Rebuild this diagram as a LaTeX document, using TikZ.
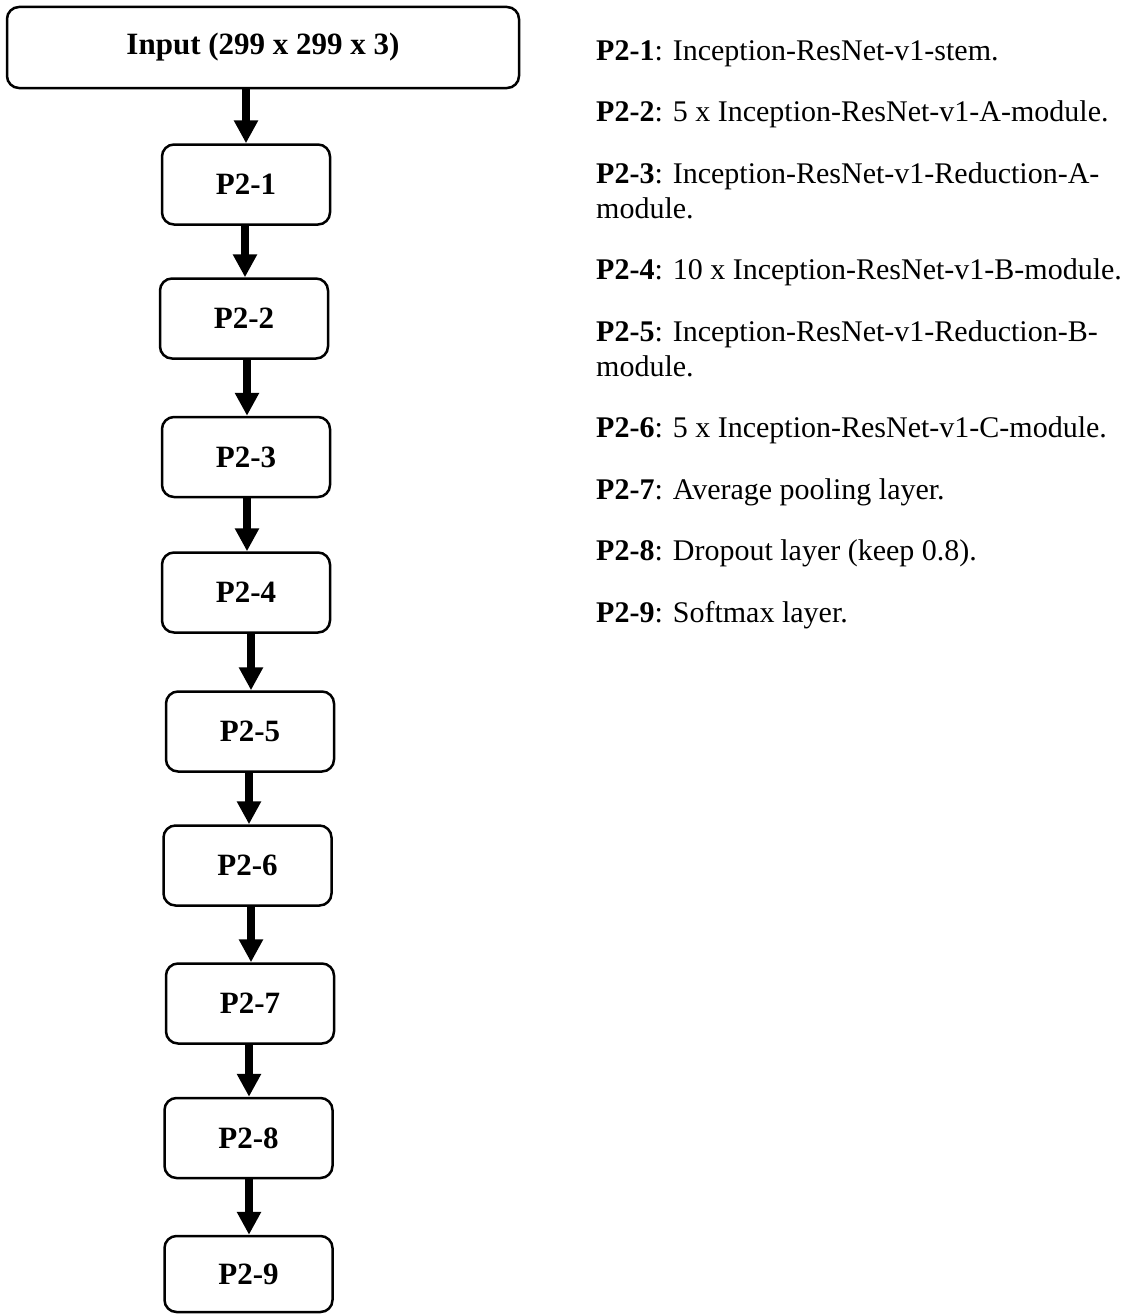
\documentclass[tikz,border=0pt]{standalone}
\usepackage{fontspec}
\setmainfont{Liberation Serif}
\usepackage{tikz}
\usetikzlibrary{arrows.meta, positioning}

\begin{document}
\begin{tikzpicture}[x=1pt, y=-1pt,
    box/.style={rectangle, rounded corners=12pt, draw, line width=2.5pt, minimum width=168pt, minimum height=80pt, align=center, font=\fontsize{31}{36}\selectfont\bfseries},
    arrow/.style={-{Triangle[width=23pt, length=23pt]}, line width=8pt},
    desc/.style={anchor=base west, inner sep=0pt, align=left, font=\fontsize{30}{35}\selectfont}
]
\useasboundingbox (0,0) rectangle (1127,1314);

% layer column
\node[box, minimum width=512pt, minimum height=81pt] (in) at (263,47.5) {Input (299 x 299 x 3)};
\node[box] (p1) at (246,184.5) {P2-1};
\node[box] (p2) at (244,318.5) {P2-2};
\node[box] (p3) at (246,457) {P2-3};
\node[box] (p4) at (246,592.5) {P2-4};
\node[box] (p5) at (250,731.5) {P2-5};
\node[box] (p6) at (247.5,865.5) {P2-6};
\node[box] (p7) at (250,1003.5) {P2-7};
\node[box] (p8) at (248.5,1138) {P2-8};
\node[box, minimum height=76pt] (p9) at (248.5,1274) {P2-9};

\draw[arrow] ([xshift=-17pt]in.south) -- (p1.north);
\draw[arrow] ([xshift=-1pt]p1.south) -- ([xshift=1pt]p2.north);
\draw[arrow] ([xshift=3pt]p2.south) -- ([xshift=1pt]p3.north);
\draw[arrow] ([xshift=1pt]p3.south) -- ([xshift=1pt]p4.north);
\draw[arrow] ([xshift=5pt]p4.south) -- ([xshift=1pt]p5.north);
\draw[arrow] ([xshift=-1pt]p5.south) -- ([xshift=1.5pt]p6.north);
\draw[arrow] ([xshift=3.5pt]p6.south) -- ([xshift=1pt]p7.north);
\draw[arrow] ([xshift=-1pt]p7.south) -- ([xshift=0.5pt]p8.north);
\draw[arrow] ([xshift=0.5pt]p8.south) -- ([xshift=0.5pt]p9.north);

% legend (two-line entries are anchored on their last line)
\node[desc] (d1) at (596,60) {\textbf{P2-1}: Inception-ResNet-v1-stem.};
\node[desc] (d2) at (596,121.5) {\textbf{P2-2}: 5 x Inception-ResNet-v1-A-module.};
\node[desc] (d3) at (596,218) {\textbf{P2-3}: Inception-ResNet-v1-Reduction-A-\\module.};
\node[desc] (d4) at (596,279.5) {\textbf{P2-4}: 10 x Inception-ResNet-v1-B-module.};
\node[desc] (d5) at (596,376) {\textbf{P2-5}: Inception-ResNet-v1-Reduction-B-\\module.};
\node[desc] (d6) at (596,437.5) {\textbf{P2-6}: 5 x Inception-ResNet-v1-C-module.};
\node[desc] (d7) at (596,499) {\textbf{P2-7}: Average pooling layer.};
\node[desc] (d8) at (596,560.5) {\textbf{P2-8}: Dropout layer (keep 0.8).};
\node[desc] (d9) at (596,622) {\textbf{P2-9}: Softmax layer.};
\end{tikzpicture}
\end{document}
